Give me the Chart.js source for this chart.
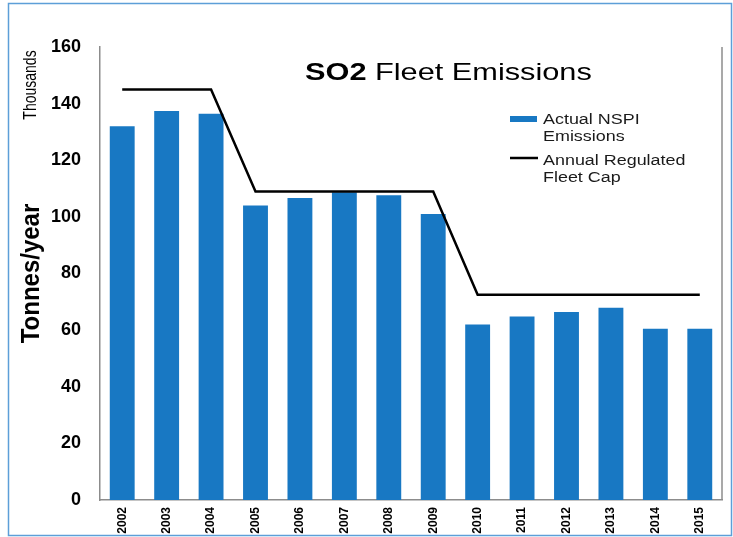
<!DOCTYPE html>
<html>
<head>
<meta charset="utf-8">
<script src="https://cdn.jsdelivr.net/npm/chart.js@4/dist/chart.umd.min.js"></script>
<style>
html,body{margin:0;padding:0;background:#fff;}
#wrap{position:relative;width:733px;height:537px;}
canvas{display:block;}
</style>
</head>
<body>
<div id="wrap"><canvas id="c" width="733" height="537"></canvas></div>
<script>
const categories = ['2002','2003','2004','2005','2006','2007','2008','2009','2010','2011','2012','2013','2014','2015'];
const actualEmissions = [132, 137.4, 136.4, 104, 106.7, 108.7, 107.6, 101, 62, 64.8, 66.4, 67.9, 60.5, 60.5];
const fleetCap = [145, 145, 145, 109, 109, 109, 109, 109, 72.5, 72.5, 72.5, 72.5, 72.5, 72.5];
const seriesNames = ['Actual NSPI Emissions', 'Annual Regulated Fleet Cap'];
const yMin = 0, yMax = 160, yStep = 20;

const FONT = '"Liberation Sans", Arial, sans-serif';
const SX = 1.28;

const custom = {
  id: 'custom',
  beforeDraw(chart) {
    const c = chart.ctx;
    c.save();
    c.fillStyle = '#fff';
    c.fillRect(0, 0, chart.width, chart.height);
    c.strokeStyle = '#5d9fd8';
    c.lineWidth = 1.5;
    c.strokeRect(8.5, 3.5, 723, 532);
    c.restore();
  },
  afterDraw(chart) {
    const c = chart.ctx;
    const a = chart.chartArea;
    c.save();
    // right border of plot
    c.strokeStyle = '#8c8c8c';
    c.lineWidth = 1.5;
    c.beginPath();
    c.moveTo(a.right, a.top);
    c.lineTo(a.right, a.bottom);
    c.stroke();

    // title
    c.save();
    c.translate(305, 80);
    c.scale(SX, 1);
    c.fillStyle = '#000';
    c.textBaseline = 'alphabetic';
    c.textAlign = 'left';
    c.font = 'bold 24px ' + FONT;
    c.fillText('SO2', 0, 0);
    const w1 = c.measureText('SO2 ').width;
    c.font = '24px ' + FONT;
    c.fillText('Fleet Emissions', w1, 0);
    c.restore();

    // legend
    c.fillStyle = '#1878c3';
    c.fillRect(510, 116, 27, 6);
    c.strokeStyle = '#000';
    c.lineWidth = 2.5;
    c.beginPath();
    c.moveTo(510, 158);
    c.lineTo(538, 158);
    c.stroke();
    const legText = [['Actual NSPI', 124], ['Emissions', 141], ['Annual Regulated', 165], ['Fleet Cap', 182]];
    c.font = '14px ' + FONT;
    c.fillStyle = '#1a1a1a';
    legText.forEach(([t, y]) => {
      c.save();
      c.translate(543, y);
      c.scale(SX, 1);
      c.fillText(t, 0, 0);
      c.restore();
    });

    // "Thousands"
    c.save();
    c.translate(36, 85);
    c.scale(SX, 1);
    c.rotate(-Math.PI / 2);
    c.font = '14px ' + FONT;
    c.fillStyle = '#000';
    c.textAlign = 'center';
    c.textBaseline = 'alphabetic';
    c.fillText('Thousands', 0, 0);
    c.restore();

    // "Tonnes/year"
    c.save();
    c.translate(39, (a.top + a.bottom) / 2);
    c.scale(SX * 0.85, 1);
    c.rotate(-Math.PI / 2);
    c.font = 'bold 24px ' + FONT;
    c.fillStyle = '#000';
    c.textAlign = 'center';
    c.textBaseline = 'alphabetic';
    c.fillText('Tonnes/year', 0, 0);
    c.restore();

    c.restore();
  }
};

new Chart(document.getElementById('c'), {
  type: 'bar',
  data: {
    labels: categories,
    datasets: [
      {
        type: 'line',
        label: seriesNames[1],
        data: fleetCap,
        borderColor: '#000',
        borderWidth: 2.5,
        pointRadius: 0,
        tension: 0,
        fill: false,
        order: 0
      },
      {
        type: 'bar',
        label: seriesNames[0],
        data: actualEmissions,
        backgroundColor: '#1878c3',
        borderWidth: 0,
        barPercentage: 0.56,
        categoryPercentage: 1,
        order: 1
      }
    ]
  },
  options: {
    responsive: false,
    animation: false,
    devicePixelRatio: 1,
    layout: { padding: { top: 47, right: 11, left: 0, bottom: 0 } },
    plugins: { legend: { display: false }, title: { display: false }, tooltip: { enabled: false } },
    scales: {
      x: {
        grid: { display: false, drawTicks: false },
        border: { display: true, color: '#8c8c8c', width: 1.5 },
        ticks: {
          minRotation: 90, maxRotation: 90, autoSkip: false, padding: 7,
          color: '#000', font: { family: FONT, size: 12, weight: 'bold' }
        },
        afterFit(s) { s.height = 37; }
      },
      y: {
        min: yMin, max: yMax,
        grid: { display: false, drawTicks: false },
        border: { display: true, color: '#8c8c8c', width: 1.5 },
        ticks: {
          stepSize: yStep, padding: 19, color: '#000',
          font: { family: FONT, size: 18, weight: 'bold' }
        },
        afterFit(s) { s.width = 100; }
      }
    }
  },
  plugins: [custom]
});
</script>
</body>
</html>
